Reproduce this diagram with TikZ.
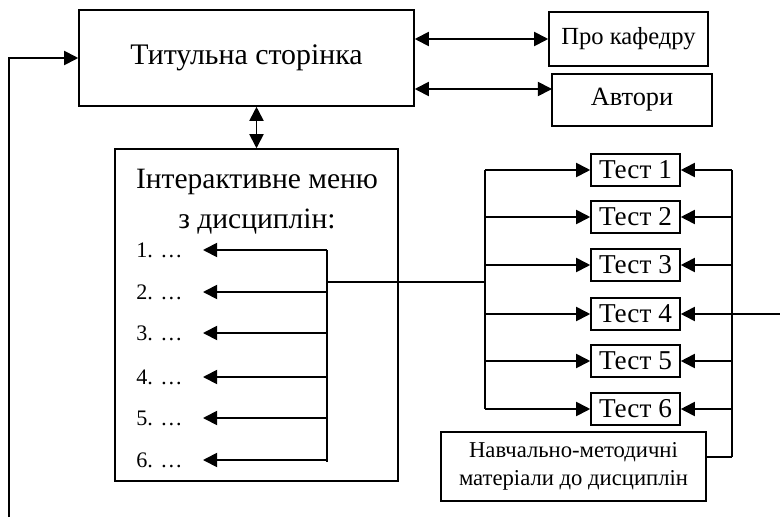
\documentclass[tikz,border=0pt]{standalone}
\usepackage{fontspec}
\setmainfont{Liberation Serif}
\usetikzlibrary{arrows.meta}
\tikzset{
 blok/.style={draw, line width=0.9pt, inner sep=0pt, align=center},
 zv/.style={line width=1pt},
}
\begin{document}
\begin{tikzpicture}[x=0.02cm, y=-0.02cm, >={Triangle[length=8pt,width=8pt]}]
\useasboundingbox (0,0) rectangle (780,517);
% top row
\node[blok, minimum width=6.7cm, minimum height=1.92cm, font=\fontsize{17}{20}\selectfont] (title) at (246.5,58) {Титульна сторінка};
\node[blok, minimum width=3.18cm, minimum height=1.08cm, font=\fontsize{14}{17}\selectfont] (kaf) at (628.5,39) {Про кафедру};
\node[blok, minimum width=3.2cm, minimum height=1.04cm, font=\fontsize{15}{18}\selectfont] (avt) at (632,100) {Автори};
\coordinate (a2) at (552,89);
\draw[zv, <->] (title.east |- kaf.west) -- (kaf.west);
\draw[zv, <->] (title.east |- a2) -- (a2);
% menu
\node[blok, minimum width=5.66cm, minimum height=6.64cm] (menu) at (256.5,315) {};
\node[align=center, font=\fontsize{16.8}{22.7}\selectfont] (mtxt) at (257,202) {Інтерактивне меню\\з дисциплін:};
\draw[zv, <->] (title.south -| menu.north) -- (menu.north);
\coordinate (mb1) at (327,250);
\coordinate (mb6) at (327,462);
\draw[zv] (mb1) -- (mb6);
\foreach \i/\y in {1/250, 2/292, 3/333, 4/377, 5/418, 6/460} {
 \node[anchor=west, inner sep=0pt, font=\fontsize{12.6}{15}\selectfont] (it\i) at (136,\y) {\i. …};
 \draw[zv, ->] (327,\y) -- (203,\y);
}
% tests
\coordinate (lb) at (485,282);
\coordinate (mb) at (327,282);
\draw[zv] (mb) -- (lb);
\coordinate (lt) at (485,170);
\coordinate (ld) at (485,409);
\draw[zv] (lt) -- (ld);
\coordinate (rt) at (732,170);
\coordinate (rd) at (732,457);
\draw[zv] (rt) -- (rd);
\foreach \i/\y in {1/170, 2/217, 3/265, 4/314, 5/361, 6/409} {
 \node[blok, minimum width=1.78cm, minimum height=0.64cm, font=\fontsize{15.5}{18}\selectfont] (t\i) at (635.5,\y) {Тест \i};
 \draw[zv, ->] (lt |- t\i.west) -- (t\i.west);
 \draw[zv, ->] (rt |- t\i.east) -- (t\i.east);
}
\node[blok, minimum width=5.3cm, minimum height=1.38cm, font=\fontsize{12.9}{16}\selectfont] (nm) at (573.5,466.5) {Навчально-методичні\\матеріали до дисциплін};
\draw[zv] (nm.east |- rd) -- (rd);
\coordinate (ext) at (780,314);
\draw[zv] (ext) -- (rt |- ext);
% loop back
\coordinate (lp) at (9,517);
\draw[zv, ->] (lp) |- (title.west);
\end{tikzpicture}
\end{document}
